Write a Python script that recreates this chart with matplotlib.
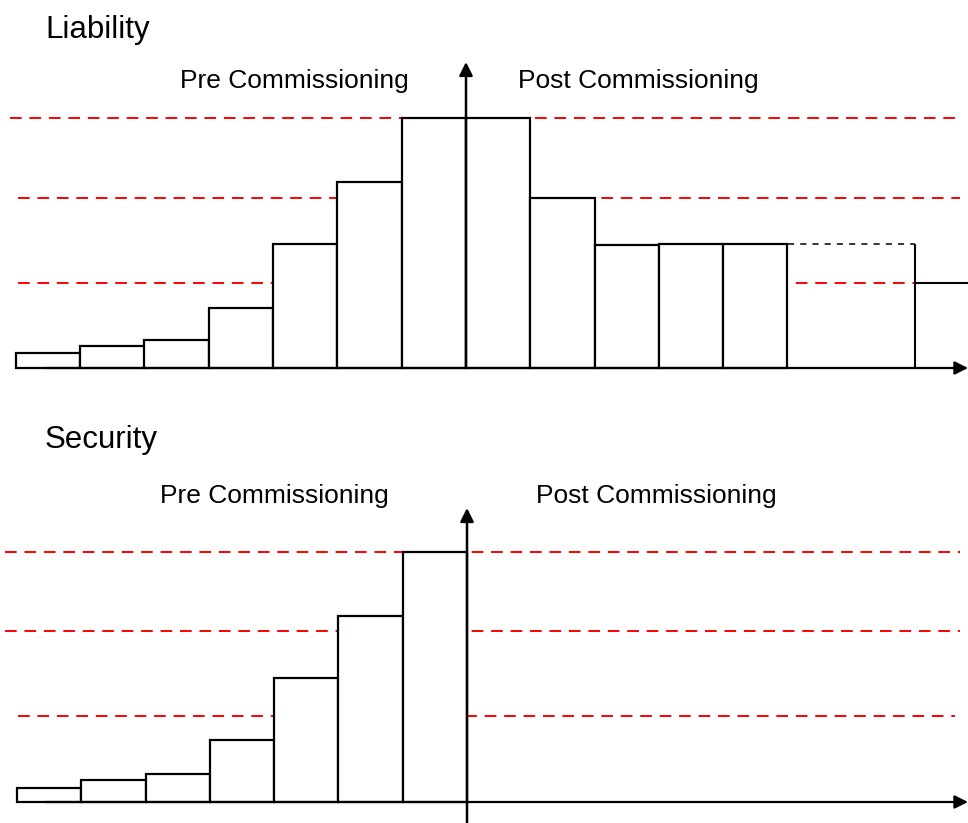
import numpy as np
import matplotlib.pyplot as plt

plt.rcParams['font.family'] = ['Liberation Sans', 'DejaVu Sans']

# bar heights, in "level" units (red dashed lines sit at levels ~1, 2, 3)
liability_pre = [0.18, 0.26, 0.34, 0.72, 1.49, 2.23, 3.0]
liability_post = [3.0, 2.04, 1.48, 1.49, 1.49]
liability_tail = [1.49, 1.02]          # dashed continuation, then step down
liability_levels = [1.02, 2.04, 3.0]

security_pre = [0.17, 0.26, 0.34, 0.74, 1.49, 2.23, 3.0]
security_post = []
security_levels = [1.03, 2.05, 3.0]

# layout in pixels
W, H, DPI = 968, 823, 100
SX = 64.3   # px per bar slot
SY = 83.3   # px per level


def make_axes(fig, top_px, bot_px, base_px, axis_px):
    ax = fig.add_axes([0, 1 - bot_px / H, 1, (bot_px - top_px) / H])
    ax.set_xlim(-axis_px / SX, (W - axis_px) / SX)
    ax.set_ylim((base_px - bot_px) / SY, (base_px - top_px) / SY)
    ax.axis('off')
    return ax


def px_x(px, axis_px):
    return (px - axis_px) / SX


def draw_panel(ax, pre, post, levels, extents, axis_px):
    for lev, (x0, x1) in zip(levels, extents):
        ax.hlines(lev, px_x(x0, axis_px), px_x(x1, axis_px), colors='red',
                  linestyles=(0, (6, 4)), lw=1.4, zorder=1)
    x_pre = np.arange(-len(pre), 0)
    ax.bar(x_pre, pre, width=1, align='edge', facecolor='white',
           edgecolor='black', lw=1.6, zorder=2)
    if post:
        x_post = np.arange(0, len(post))
        ax.bar(x_post, post, width=1, align='edge', facecolor='white',
               edgecolor='black', lw=1.6, zorder=2)


fig = plt.figure(figsize=(W / DPI, H / DPI), dpi=DPI)

# ---- Liability ----
ax1 = make_axes(fig, 0, 400, 368, 466)
draw_panel(ax1, liability_pre, liability_post, liability_levels,
           [(18, 960), (18, 960), (10, 955)], 466)
xe = px_x(915, 466)
ax1.hlines(liability_tail[0], len(liability_post), xe, colors='black',
           linestyles=(0, (4, 4)), lw=1.1, zorder=3)
ax1.vlines(xe, 0, liability_tail[0], colors='black', lw=1.5, zorder=3)
ax1.hlines(liability_tail[1], xe, px_x(968, 466), colors='black', lw=1.5, zorder=3)
ax1.annotate('', xy=(px_x(968, 466), 0), xytext=(px_x(45, 466), 0),
             arrowprops=dict(arrowstyle='-|>', color='black', lw=1.6,
                             mutation_scale=20, shrinkA=0, shrinkB=0), zorder=4)
ax1.annotate('', xy=(0, (368 - 62) / SY), xytext=(0, 0),
             arrowprops=dict(arrowstyle='-|>', color='black', lw=1.8,
                             mutation_scale=20, shrinkA=0, shrinkB=0), zorder=4)
ax1.text(px_x(45, 466), (368 - 38) / SY, 'Liability', fontsize=22.5, va='baseline')
ax1.text(px_x(180, 466), (368 - 88) / SY, 'Pre Commissioning', fontsize=19, va='baseline')
ax1.text(px_x(518, 466), (368 - 88) / SY, 'Post Commissioning', fontsize=19, va='baseline')

# ---- Security ----
ax2 = make_axes(fig, 400, 823, 802, 467)
draw_panel(ax2, security_pre, security_post, security_levels,
           [(18, 955), (5, 960), (5, 960)], 467)
ax2.annotate('', xy=(px_x(968, 467), 0), xytext=(px_x(45, 467), 0),
             arrowprops=dict(arrowstyle='-|>', color='black', lw=1.6,
                             mutation_scale=20, shrinkA=0, shrinkB=0), zorder=4)
ax2.annotate('', xy=(0, (802 - 508) / SY), xytext=(0, (802 - 823) / SY),
             arrowprops=dict(arrowstyle='-|>', color='black', lw=1.8,
                             mutation_scale=20, shrinkA=0, shrinkB=0), zorder=4)
ax2.text(px_x(45, 467), (802 - 448) / SY, 'Security', fontsize=22.5, va='baseline')
ax2.text(px_x(160, 467), (802 - 503) / SY, 'Pre Commissioning', fontsize=19, va='baseline')
ax2.text(px_x(536, 467), (802 - 503) / SY, 'Post Commissioning', fontsize=19, va='baseline')

fig.savefig('out.png', dpi=DPI)
